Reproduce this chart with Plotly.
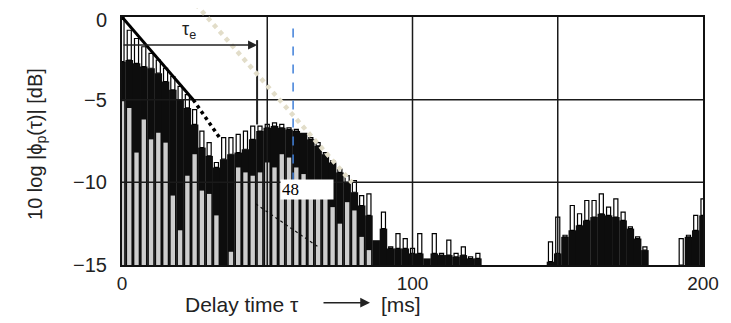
import plotly.graph_objects as go

# Delay time positions (ms), 2.5 ms pitch
delay_ms = [i * 2.5 for i in range(81)]

# Axis ticks
x_ticks = [0, 100, 200]
y_ticks = [-15, -10, -5, 0]
y_tick_labels = ["−15", "−10", "−5", "0"]

# Top of the tall outlined bars (dB); None = no bar
tall_top = [0.0, -0.8, -1.3, -1.8, -2.2, -2.6, -3.1, -3.6, -4.2, -4.7,
            -5.6, -6.9, -7.6, -8.8, -7.3, -7.3, -7.1, -6.9, -6.6, -6.6,
            -6.5, -6.4, -6.5, -6.7, -6.8, -7.0, -7.3, -7.6, -8.2, -8.7,
            -9.2, -9.6, -9.9, -10.8, -10.7, -13.5, -11.8, -13.9, -13.1, -13.4,
            -14.0, -13.1, -14.6, -13.1, -14.3, -13.5, -14.3, -13.9, -14.5, -14.3,
            None, None, None, None, None, None, None, None, None, -13.6,
            -12.1, -13.2, -11.4, -11.9, -11.1, -11.1, -10.7, -11.5, -11.0, -11.8,
            -12.7, -13.3, -13.9, None, None, None, None, -13.4, -13.2, -12.0,
            -11.0]

# Top of the black (filled) envelope (dB)
black_top = [-2.7, -2.6, -2.8, -3.0, -3.1, -3.4, -3.9, -4.4, -5.0, -5.5,
             -6.5, -7.9, -8.4, -9.1, -8.6, -8.3, -8.2, -8.0, -7.4, -6.9,
             -6.7, -6.6, -6.7, -6.8, -6.9, -7.0, -7.4, -7.8, -8.3, -8.8,
             -9.4, -10.0, -10.6, -11.4, -12.0, -13.5, -12.8, -14.0, -14.0, -14.0,
             -14.3, -14.3, -14.6, -14.3, -14.4, -14.4, -14.5, -14.4, -14.6, -14.6,
             -15.0, -15.0, -15.0, -15.0, -15.0, -15.0, -15.0, -15.0, -15.0, -14.8,
             -14.3, -13.3, -12.9, -12.6, -12.3, -12.1, -11.9, -12.0, -12.1, -12.3,
             -12.8, -13.4, -14.1, -15.0, -15.0, -15.0, -15.0, -15.0, -13.3, -12.9,
             -12.0]

# Top of the light grey stripes inside the black envelope (dB)
light_top = [-5.1, -5.5, -8.2, -6.2, -7.4, -7.0, -7.6, -10.8, -12.9, -9.6,
             -8.3, -10.5, -10.7, -12.0, -15.0, -14.2, -9.1, -9.4, -9.6, -9.4,
             -8.8, -9.1, -8.3, -8.5, -9.1, -9.5, -9.9, -10.4, -10.9, -11.5,
             -12.5, -11.2, -11.7, -13.3, -14.1] + [-15.0] * 46

BOTTOM = -15.0

def height(top, base):
    if top is None:
        return None
    h = top - base
    return h if h > 0 else None

black_h = [height(t, BOTTOM) for t in black_top]
light_h = [height(t, BOTTOM) for t in light_top]
tall_h = [height(t, b) for t, b in zip(tall_top, black_top)]

fig = go.Figure()
fig.add_trace(go.Bar(x=delay_ms, y=black_h, base=BOTTOM, width=2.6,
                     marker=dict(color="#0d0d0d", line=dict(width=0)),
                     showlegend=False))
fig.add_trace(go.Bar(x=delay_ms, y=light_h, base=BOTTOM, width=1.5,
                     marker=dict(color="#cdcdcd", line=dict(width=0)),
                     showlegend=False))
fig.add_trace(go.Bar(x=delay_ms, y=tall_h, base=black_top, width=1.4,
                     marker=dict(color="white", line=dict(color="black", width=1.2)),
                     showlegend=False))

shapes = []
# grid lines above the bars
for gx in [50, 100, 150]:
    shapes.append(dict(type="line", xref="x", yref="y", x0=gx, x1=gx, y0=-15, y1=0,
                       line=dict(color="#1a1a1a", width=1.5), layer="above"))
for gy in [-5, -10]:
    shapes.append(dict(type="line", xref="x", yref="y", x0=0, x1=200, y0=gy, y1=gy,
                       line=dict(color="#1a1a1a", width=1.5), layer="above"))
# initial decay line and its dashed continuation
shapes.append(dict(type="line", xref="x", yref="y", x0=0, y0=0, x1=24.5, y1=-5,
                   line=dict(color="black", width=3), layer="above"))
shapes.append(dict(type="line", xref="x", yref="y", x0=24.5, y0=-5, x1=34, y1=-7.4,
                   line=dict(color="black", width=3.5, dash="dot"), layer="above"))
# tau_e marker vertical
shapes.append(dict(type="line", xref="x", yref="y", x0=46.5, x1=46.5, y0=-1.4, y1=-6.5,
                   line=dict(color="#222", width=2), layer="above"))
# thin dotted line inside stripes
shapes.append(dict(type="line", xref="x", yref="y", x0=46, y0=-11.3, x1=67.5, y1=-13.9,
                   line=dict(color="#111", width=1.2, dash="dot"), layer="above"))
# beige dotted envelope line
shapes.append(dict(type="line", xref="paper", yref="paper", x0=0.127, y0=1.052,
                   x1=0.396, y1=0.332,
                   line=dict(color="#e2ddc9", width=4.5, dash="dot"), layer="above"))
# blue dashed vertical
shapes.append(dict(type="line", xref="x", yref="y", x0=58.9, x1=58.9, y0=-0.7, y1=-9.9,
                   line=dict(color="#3f7fd9", width=1.5, dash="dash"), layer="above"))

tick_font = dict(family="Liberation Sans, Arial", size=20, color="#222")

# page body has an 8 px margin: figure coordinates = page coordinates - 8
annotations = [
    dict(x=46.5, y=-1.7, ax=0, ay=-1.7, xref="x", yref="y", axref="x", ayref="y",
         text="", showarrow=True, arrowhead=2, arrowsize=1.2, arrowwidth=1.5,
         arrowcolor="#222"),
    dict(x=23, y=-0.8, xref="x", yref="y", text="τ<sub>e</sub>", showarrow=False,
         font=dict(family="Liberation Sans, Arial", size=18, color="#222")),
    dict(x=54.5, y=-10.45, xref="x", yref="y", text="48", showarrow=False,
         xanchor="left", yanchor="middle", align="left", bgcolor="white",
         width=50, height=17, borderpad=1,
         font=dict(family="Liberation Serif, Times New Roman", size=17, color="black")),
    dict(x=(242 - 122) / 581, y=(265 - 305) / 250, xref="paper", yref="paper",
         text="Delay time τ", showarrow=False, xanchor="center", yanchor="middle",
         font=dict(family="Liberation Sans, Arial", size=21, color="#222")),
    dict(x=(370 - 122) / 581, y=(265 - 303) / 250, ax=-48, ay=0,
         xref="paper", yref="paper", axref="pixel", ayref="pixel",
         text="", showarrow=True, arrowhead=2, arrowsize=1.3, arrowwidth=1.5,
         arrowcolor="#222"),
    dict(x=(401 - 122) / 581, y=(265 - 305) / 250, xref="paper", yref="paper",
         text="[ms]", showarrow=False, xanchor="center", yanchor="middle",
         font=dict(family="Liberation Sans, Arial", size=21, color="#222")),
    dict(x=(37 - 122) / 581, y=(265 - 143) / 250, xref="paper", yref="paper",
         text="10 log |ϕ<sub>p</sub>(τ)| [dB]", showarrow=False, textangle=-90,
         xanchor="center", yanchor="middle",
         font=dict(family="Liberation Sans, Arial", size=20, color="#222")),
]
# y tick labels placed just left of the axis
for val, lab in zip(y_ticks, y_tick_labels):
    annotations.append(dict(x=(109 - 122) / 581, y=val, xref="paper", yref="y",
                            text=lab, showarrow=False, xanchor="right",
                            yanchor="middle", yshift=(-3 if val == 0 else 0),
                            font=tick_font))

fig.update_layout(
    width=723, height=315,
    margin=dict(l=114, r=28, t=7, b=58),
    paper_bgcolor="white", plot_bgcolor="white",
    barmode="overlay",
    shapes=shapes, annotations=annotations,
    xaxis=dict(range=[0, 200], tickvals=x_ticks, showgrid=False, zeroline=False,
               showline=True, mirror=True, linecolor="#111", linewidth=2,
               ticks="", ticklabelstandoff=0, ticklabeloverflow="allow",
               tickfont=dict(family="Liberation Sans, Arial", size=19, color="#222")),
    yaxis=dict(range=[-15, 0], tickvals=y_ticks, showgrid=False, zeroline=False,
               showline=True, mirror=True, linecolor="#111", linewidth=2,
               ticks="", showticklabels=False),
)

fig.write_html("out.html")
